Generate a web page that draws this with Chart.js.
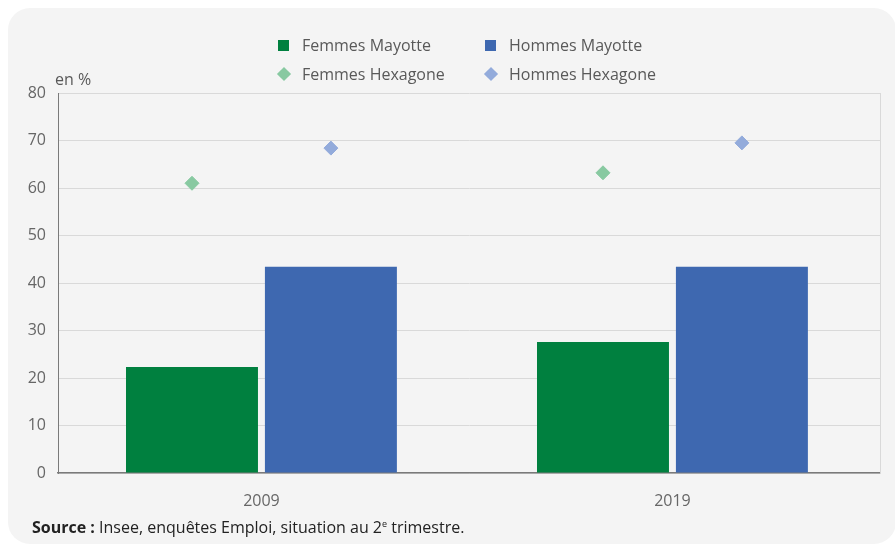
<!DOCTYPE html>
<html lang="fr">
<head>
<meta charset="utf-8">
<script src="https://cdn.jsdelivr.net/npm/chart.js@4.4.1/dist/chart.umd.min.js"></script>
<style>
    body { margin: 0; background: #ffffff; font-family: 'Open Sans', sans-serif; }
    .wrap { position: relative; width: 895px; height: 546px; overflow: hidden; }
    .card { position: absolute; left: 8px; top: 8px; width: 888px; height: 536px; background: #f4f4f4; border-radius: 22px; }
    canvas { position: absolute; left: 0; top: 0; }
    .legend { position: absolute; left: 0; top: 0; font-size: 16px; color: #595959; }
    .legend .item { position: absolute; white-space: nowrap; line-height: 20px; }
    .legend .mark { position: absolute; }
    .unit { position: absolute; left: 55px; top: 69px; font-size: 16px; line-height: 20px; color: #595959; }
    .source { position: absolute; left: 32px; top: 514px; font-size: 16px; line-height: 20px; color: #222; }
    .source sup { font-size: 9px; }
</style>
</head>
<body>
<div class="wrap">
    <div class="card"></div>
    <canvas id="chart" width="895" height="546"></canvas>
    <div class="legend" id="legend"></div>
    <div class="unit">en %</div>
    <div class="source"><b>Source :</b> Insee, enquêtes Emploi, situation au 2<sup>e</sup> trimestre.</div>
</div>
<script>
// données (taux d'emploi, en %)
const annees = ['2009', '2019'];
const femmesMayotte = [22.3, 27.6];
const hommesMayotte = [43.4, 43.4];
const femmesHexagone = [61.0, 63.2];
const hommesHexagone = [68.4, 69.5];
const ticksY = [0, 10, 20, 30, 40, 50, 60, 70, 80];

// part de chaque année occupée par le groupe de barres
const groupPct = 0.676;

// femmes à gauche (-1), hommes à droite (+1) de chaque année
function points(values, side) {
    return values.map((v, i) => ({ x: i + side * groupPct / 4, y: v }));
}

const ctx = document.getElementById('chart').getContext('2d');
const chart = new Chart(ctx, {
    type: 'bar',
    data: {
        datasets: [
            {
                label: 'Femmes Mayotte',
                data: points(femmesMayotte, -1),
                backgroundColor: '#00803f',
                grouped: false,
                categoryPercentage: 1,
                barPercentage: 0.95,
                order: 2
            },
            {
                label: 'Hommes Mayotte',
                data: points(hommesMayotte, 1),
                backgroundColor: '#3e68b0',
                grouped: false,
                categoryPercentage: 1,
                barPercentage: 0.95,
                order: 2
            },
            {
                type: 'line',
                label: 'Femmes Hexagone',
                data: points(femmesHexagone, -1),
                showLine: false,
                pointStyle: 'rectRot',
                pointRadius: 7,
                pointBackgroundColor: '#88c9a1',
                pointBorderColor: '#88c9a1',
                pointBorderWidth: 1,
                order: 1
            },
            {
                type: 'line',
                label: 'Hommes Hexagone',
                data: points(hommesHexagone, 1),
                showLine: false,
                pointStyle: 'rectRot',
                pointRadius: 7,
                pointBackgroundColor: '#93abdb',
                pointBorderColor: '#93abdb',
                pointBorderWidth: 1,
                order: 1
            }
        ]
    },
    options: {
        responsive: false,
        animation: false,
        layout: { padding: { top: 93, right: 15, bottom: 0, left: 0 } },
        plugins: {
            legend: { display: false },
            tooltip: { enabled: false }
        },
        scales: {
            x: {
                type: 'linear',
                min: -0.495,
                max: 1.505,
                offset: false,
                afterBuildTicks: function (scale) { scale.ticks = annees.map((a, i) => ({ value: i })); },
                grid: { display: false, offset: false },
                border: { color: '#7a7a7a', width: 1.5 },
                ticks: {
                    color: '#666666',
                    font: { family: 'Open Sans', size: 16 },
                    padding: 11,
                    callback: function (value) { return annees[value]; }
                },
                afterFit: function (scale) { scale.height = 73; }
            },
            y: {
                min: 0,
                max: 80,
                afterBuildTicks: function (scale) { scale.ticks = ticksY.map(v => ({ value: v })); },
                grid: { color: '#d9d9d9', drawTicks: false },
                border: { color: '#7a7a7a', width: 1 },
                ticks: { color: '#666666', font: { family: 'Open Sans', size: 16 }, padding: 12 },
                afterFit: function (scale) { scale.width = 58; }
            },
            yr: {
                position: 'right',
                min: 0,
                max: 80,
                grid: { drawOnChartArea: false, drawTicks: false },
                border: { color: '#d9d9d9', width: 1 },
                ticks: { display: false },
                afterFit: function (scale) { scale.width = 0; }
            }
        }
    }
});

// légende sur deux lignes, deux colonnes
const legendPos = [
    { left: 278, top: 35 },
    { left: 485, top: 35 },
    { left: 278, top: 64 },
    { left: 485, top: 64 }
];
const legend = document.getElementById('legend');
chart.data.datasets.forEach((ds, i) => {
    const item = document.createElement('div');
    item.className = 'item';
    item.style.left = legendPos[i].left + 'px';
    item.style.top = legendPos[i].top + 'px';
    const mark = document.createElement('span');
    mark.className = 'mark';
    if (ds.type === 'line') {
        mark.style.width = '10px';
        mark.style.height = '10px';
        mark.style.left = '1px';
        mark.style.top = '5px';
        mark.style.transform = 'rotate(45deg)';
        mark.style.background = ds.pointBackgroundColor;
    } else {
        mark.style.width = '11px';
        mark.style.height = '11px';
        mark.style.left = '0px';
        mark.style.top = '5px';
        mark.style.background = ds.backgroundColor;
    }
    const txt = document.createElement('span');
    txt.textContent = ds.label;
    txt.style.marginLeft = '24px';
    item.appendChild(mark);
    item.appendChild(txt);
    legend.appendChild(item);
});
</script>
</body>
</html>
